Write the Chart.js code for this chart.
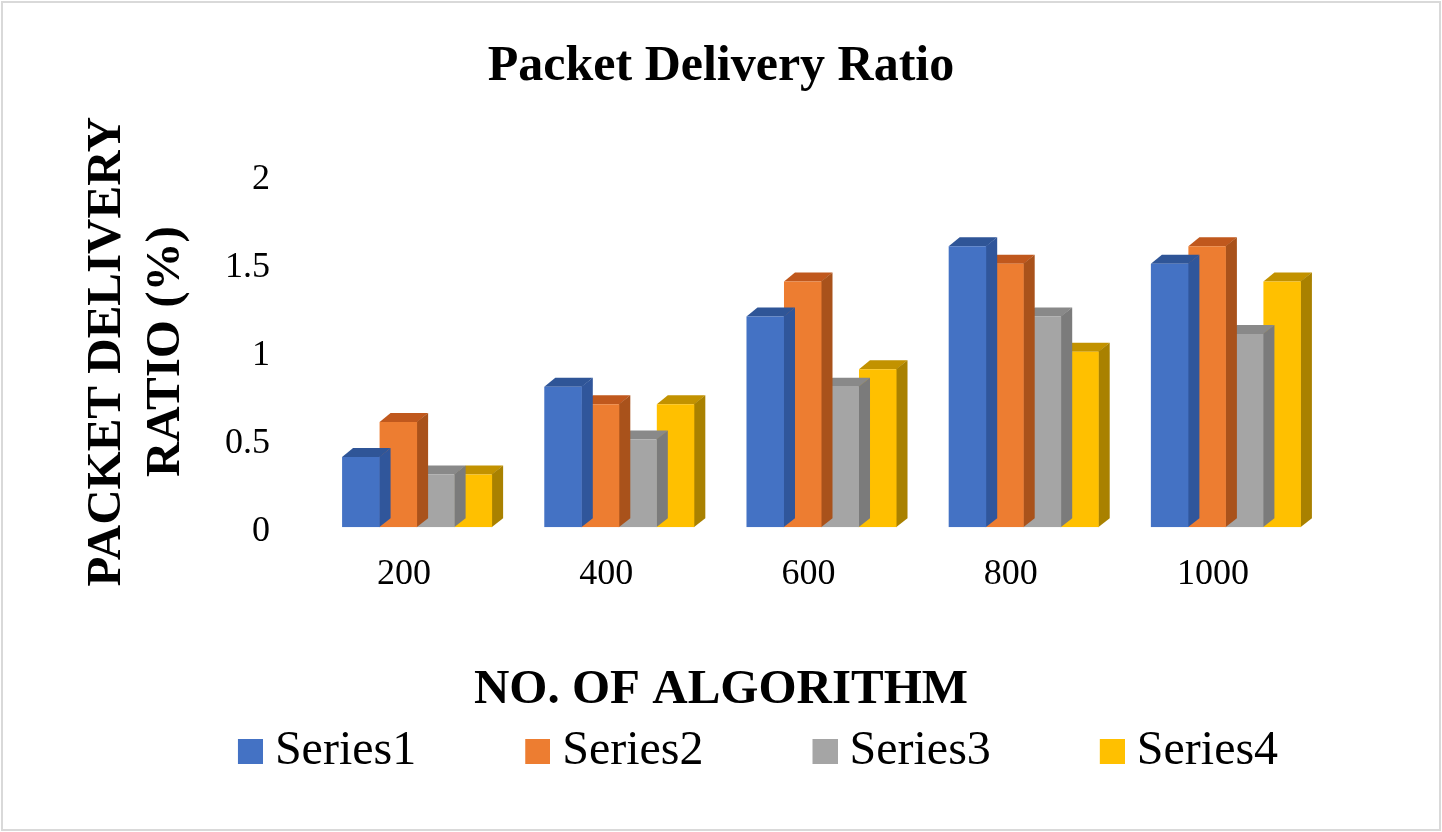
<!DOCTYPE html>
<html>
<head>
<meta charset="utf-8">
<title>Packet Delivery Ratio</title>
<script src="https://cdn.jsdelivr.net/npm/chart.js@4.4.1/dist/chart.umd.min.js"></script>
<style>
    html, body { margin: 0; padding: 0; background: #ffffff; overflow: hidden; }
    #wrap { position: relative; width: 1442px; height: 832px; }
    #frame {
        position: absolute; left: 1px; top: 1px; width: 1440px; height: 830px;
        border: 2px solid #d9d9d9; box-sizing: border-box; pointer-events: none;
    }
</style>
</head>
<body>
<div id="wrap">
    <canvas id="pdrChart"></canvas>
    <div id="frame"></div>
</div>
<script>
// ---------- Data ----------
var categories = ['200', '400', '600', '800', '1000'];
var series1 = [0.4, 0.8, 1.2, 1.6, 1.5];
var series2 = [0.6, 0.7, 1.4, 1.5, 1.6];
var series3 = [0.3, 0.5, 0.8, 1.2, 1.1];
var series4 = [0.3, 0.7, 0.9, 1.0, 1.4];
var seriesNames = ['Series1', 'Series2', 'Series3', 'Series4'];
var yTickLabels = ['0', '0.5', '1', '1.5', '2'];

// ---------- Styles ----------
var frontColors = ['#4472C4', '#ED7D31', '#A5A5A5', '#FFC000'];
var topColors = ['#2F5597', '#C0581D', '#898989', '#C29200'];
var sideColors = ['#30569B', '#A9521B', '#7B7B7B', '#A98100'];
var DEPTH_X = 11;
var DEPTH_Y = 9;
var FONT = "'Liberation Serif', 'Times New Roman', serif";

// Legend swatch: a transparent strip with the square on its right end,
// so the gap between swatch and text matches the original.
var SWATCH_SLOT = 87;
function makeSwatch(color) {
    var c = document.createElement('canvas');
    c.width = SWATCH_SLOT + 24;
    c.height = 25;
    var g = c.getContext('2d');
    g.fillStyle = color;
    g.fillRect(c.width - 25, 0, 25, 25);
    return c;
}
var swatches = frontColors.map(makeSwatch);

// ---------- 3D faces (top + right side) drawn behind each dataset ----------
var barDepth = {
    id: 'barDepth',
    beforeDatasetDraw: function(chart, args) {
        var ctx = chart.ctx;
        var i = args.index;
        ctx.save();
        args.meta.data.forEach(function(bar) {
            var p = bar.getProps(['x', 'y', 'base', 'width'], true);
            var left = p.x - p.width / 2;
            var right = p.x + p.width / 2;

            ctx.fillStyle = topColors[i];
            ctx.beginPath();
            ctx.moveTo(left, p.y);
            ctx.lineTo(left + DEPTH_X, p.y - DEPTH_Y);
            ctx.lineTo(right + DEPTH_X, p.y - DEPTH_Y);
            ctx.lineTo(right, p.y);
            ctx.closePath();
            ctx.fill();

            ctx.fillStyle = sideColors[i];
            ctx.beginPath();
            ctx.moveTo(right - 0.5, p.y);
            ctx.lineTo(right + DEPTH_X, p.y - DEPTH_Y);
            ctx.lineTo(right + DEPTH_X, p.base - DEPTH_Y);
            ctx.lineTo(right - 0.5, p.base);
            ctx.closePath();
            ctx.fill();
        });
        ctx.restore();
    }
};

var seriesValues = [series1, series2, series3, series4];
var datasets = seriesValues.map(function(values, i) {
    return {
        label: seriesNames[i],
        data: values,
        backgroundColor: frontColors[i],
        borderWidth: 0,
        categoryPercentage: 0.742,
        barPercentage: 1.0
    };
});

new Chart(document.getElementById('pdrChart'), {
    type: 'bar',
    data: { labels: categories, datasets: datasets },
    plugins: [barDepth],
    options: {
        responsive: true,
        maintainAspectRatio: false,
        animation: false,
        layout: { padding: { left: 0, right: 0, top: 0, bottom: 47 } },
        plugins: {
            tooltip: { enabled: false },
            title: {
                display: true,
                text: 'Packet Delivery Ratio',
                color: '#000',
                font: { family: FONT, size: 50, weight: 'bold', lineHeight: 1.2 },
                padding: { top: 37, bottom: 79 }
            },
            legend: {
                position: 'bottom',
                title: {
                    display: true,
                    text: 'NO. OF ALGORITHM',
                    color: '#000',
                    font: { family: FONT, size: 49, weight: 'bold', lineHeight: 0.5 },
                    padding: { top: 43, bottom: 2 }
                },
                labels: {
                    color: '#000',
                    font: { family: FONT, size: 48 },
                    usePointStyle: true,
                    pointStyleWidth: SWATCH_SLOT,
                    boxHeight: 25,
                    padding: 35,
                    generateLabels: function(chart) {
                        var items = Chart.defaults.plugins.legend.labels.generateLabels(chart);
                        items.forEach(function(item, i) {
                            item.pointStyle = swatches[i];
                        });
                        return items;
                    }
                }
            }
        },
        scales: {
            x: {
                grid: { display: false, drawTicks: false },
                border: { display: false },
                ticks: {
                    color: '#000',
                    font: { family: FONT, size: 36 },
                    padding: 26,
                    labelOffset: -13
                }
            },
            y: {
                min: 0,
                max: 2,
                grid: { display: false, drawTicks: false },
                border: { display: false },
                ticks: {
                    stepSize: 0.5,
                    color: '#000',
                    font: { family: FONT, size: 36 },
                    padding: 46,
                    labelOffset: 4,
                    callback: function(value, index) {
                        return yTickLabels[index];
                    }
                },
                title: {
                    display: true,
                    text: ['PACKET DELIVERY', 'RATIO (%)'],
                    color: '#000',
                    font: { family: FONT, size: 49, weight: 'bold', lineHeight: 1.2 },
                    padding: { top: 78, bottom: 0 }
                },
                afterFit: function(scale) {
                    scale.width = 316;
                }
            },
            // Empty right-hand axis that only reserves the space right of the plot.
            yRight: {
                position: 'right',
                grid: { display: false, drawTicks: false },
                border: { display: false },
                ticks: { display: false },
                afterFit: function(scale) {
                    scale.width = 115;
                }
            }
        }
    }
});
</script>
</body>
</html>
